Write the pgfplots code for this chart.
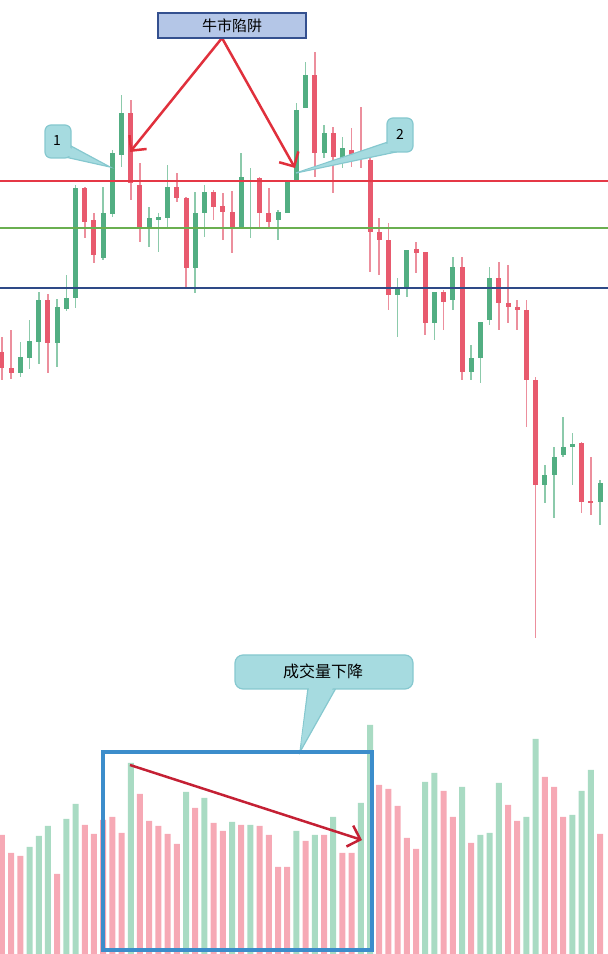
\documentclass[border=0pt]{standalone}
\usepackage{fontspec}
\setmainfont{Noto Sans CJK SC}
\usepackage{pgfplots}
\pgfplotsset{compat=1.18}
\usepackage{pgfplotstable}
\usetikzlibrary{arrows.meta}

\definecolor{candleR}{HTML}{E85A6E}
\definecolor{candleG}{HTML}{52AE82}
\definecolor{wickR}{HTML}{EC8F9D}
\definecolor{wickG}{HTML}{8CCAAB}
\definecolor{volR}{HTML}{F6A9B5}
\definecolor{volG}{HTML}{A9DBC3}
\definecolor{lineR}{HTML}{E53846}
\definecolor{lineG}{HTML}{6AAF50}
\definecolor{lineB}{HTML}{2E4A87}
\definecolor{arrowR}{HTML}{E0303C}
\definecolor{arrowDR}{HTML}{C42034}
\definecolor{trapFill}{HTML}{B4C6E7}
\definecolor{trapEdge}{HTML}{34508F}
\definecolor{callFill}{HTML}{A6DBE0}
\definecolor{callEdge}{HTML}{86C8CF}
\definecolor{boxBlue}{HTML}{3C8DCB}

% candles: x open high low close
\pgfplotstableread{
x  o    h    l    c
3  32.7 35.8 32.3 34.3
4  34.2 38.0 33.1 35.9
5  35.8 40.8 33.6 40.0
7  35.7 40.1 33.3 39.3
8  39.1 42.5 38.9 40.2
9  40.2 51.5 39.2 51.2
12 44.2 51.3 44.0 48.7
13 48.6 55.0 48.3 54.7
14 54.5 60.5 53.3 58.7
17 47.3 49.3 45.3 48.2
18 48.0 48.7 44.8 48.3
19 48.2 53.5 47.3 51.3
22 43.2 50.8 40.7 48.7
23 48.7 51.5 46.3 50.8
27 47.3 54.7 47.3 52.3
28 51.8 53.2 46.2 52.0
31 48.0 49.0 46.0 48.8
32 48.7 52.0 48.7 51.8
33 52.0 59.7 51.9 59.0
34 59.2 63.8 59.2 62.5
36 54.7 57.5 54.2 56.7
38 54.2 56.3 53.2 55.2
44 40.5 42.2 36.3 41.2
45 41.3 45.0 40.3 45.0
48 37.7 40.8 36.0 40.8
50 40.0 44.3 39.0 43.3
52 32.8 35.5 32.0 34.2
53 34.2 37.8 31.7 37.8
54 38.0 43.3 37.5 42.2
60 21.5 23.5 19.7 22.5
61 22.5 25.3 18.2 24.3
62 24.5 28.3 24.3 25.3
63 25.3 26.7 21.5 25.6
66 19.8 22.0 17.5 21.7
}\candlesG
\pgfplotstableread{
x  o    h    l    c
1  34.8 36.3 32.0 33.2
2  33.2 37.0 32.1 32.7
6  40.0 40.6 32.7 35.7
10 51.2 51.3 46.2 47.8
11 48.0 48.7 43.7 44.5
15 58.7 60.0 50.0 51.7
16 51.5 53.7 45.8 47.3
20 51.3 52.7 49.8 50.2
21 50.2 50.3 41.3 43.2
24 50.8 51.0 48.0 49.3
25 49.4 50.7 46.0 48.8
26 48.8 50.9 44.7 47.3
29 52.2 52.3 47.3 48.7
30 48.7 51.2 47.3 47.8
35 62.5 64.8 52.3 54.7
37 56.7 57.3 50.7 54.3
39 55.0 57.2 53.3 54.3
40 54.8 59.3 53.2 54.2
41 54.0 54.2 42.8 46.8
42 46.8 48.2 42.5 46.0
43 46.0 47.7 39.0 40.5
46 45.1 45.8 42.7 44.7
47 44.8 44.8 36.5 37.7
49 40.8 41.0 37.0 39.8
51 43.3 44.3 32.0 32.8
55 42.2 43.8 37.0 39.7
56 39.7 43.5 37.7 39.3
57 39.3 40.0 37.0 39.0
58 39.0 40.0 27.3 32.0
59 32.0 32.3 6.2  21.5
64 25.7 25.8 18.7 19.8
65 19.9 24.3 18.5 19.7
}\candlesR

% volume
\pgfplotstableread{
x  v
4  107
5  118
6  128
8  135
9  150
15 191
21 162
23 156
26 132
28 129
33 123
35 119
37 137
40 151
41 229
47 172
48 181
51 167
53 119
54 121
55 171
58 137
59 215
63 139
64 163
65 184
}\volG
\pgfplotstableread{
x  v
1  119
2  101
3  98
7  80
10 129
11 120
12 134
13 137
14 121
16 160
17 133
18 128
19 120
20 110
22 146
24 131
25 123
27 129
29 128
30 119
31 87
32 87
34 113
36 119
38 101
39 101
42 169
43 165
44 148
45 116
46 105
49 163
50 137
52 111
56 149
57 133
60 177
61 167
62 137
66 120
}\volR

\begin{document}
\begin{tikzpicture}
\useasboundingbox (0,0) rectangle (608pt,954pt);
\pgfplotsset{chartbase/.style={hide axis, scale only axis,
    width=608pt, height=954pt, at={(0,0)}, anchor=south west,
    xmin=0.783, xmax=66.87},
  candle/.style={draw=none, mark=none, error bars/.cd, y dir=plus,
    y explicit, error mark=none}}

% volume panel
\begin{axis}[chartbase, ymin=0, ymax=954]
\addplot[ybar, bar width=6pt, bar shift=0pt, fill=volR, draw=none]
    table[x=x, y=v] {\volR};
\addplot[ybar, bar width=6pt, bar shift=0pt, fill=volG, draw=none]
    table[x=x, y=v] {\volG};
\end{axis}

% price panel
\begin{axis}[chartbase, ymin=-25.4, ymax=70]
% wicks
\addplot[candle, error bar style={line width=1.6pt, draw=wickG}]
    table[x=x, y=l, y error expr=\thisrow{h}-\thisrow{l}] {\candlesG};
\addplot[candle, error bar style={line width=1.6pt, draw=wickR}]
    table[x=x, y=l, y error expr=\thisrow{h}-\thisrow{l}] {\candlesR};
% bodies
\addplot[candle, error bar style={line width=5pt, draw=candleG}]
    table[x=x, y=o, y error expr=\thisrow{c}-\thisrow{o}] {\candlesG};
\addplot[candle, error bar style={line width=5pt, draw=candleR}]
    table[x=x, y=c, y error expr=\thisrow{o}-\thisrow{c}] {\candlesR};
% levels
\addplot[lineR, line width=2.6pt] coordinates {(0.783,51.9) (66.87,51.9)};
\addplot[lineG, line width=2pt] coordinates {(0.783,47.2) (66.87,47.2)};
\addplot[lineB, line width=2.4pt] coordinates {(0.783,41.2) (66.87,41.2)};
\end{axis}

% annotations, in pixel units from the top left
\begin{scope}[shift={(0pt,954pt)}, x=1pt, y=-1pt]
\tikzset{callout/.style={fill=callFill, draw=callEdge, line width=1.2pt}}
% trap label and arrows
\draw[arrowR, line width=2.5pt, -{Straight Barb[length=11pt, width=22pt]}]
    (222,38) -- (130,152);
\draw[arrowR, line width=2.5pt, -{Straight Barb[length=11pt, width=22pt]}]
    (222,38) -- (295,168);
\filldraw[fill=trapFill, draw=trapEdge, line width=2pt] (158,13) rectangle (306,38);
\node[font=\fontsize{15}{17}\selectfont] at (232,25.5) {牛市陷阱};
% callout 1
\filldraw[callout] (71,146) -- (110,167) -- (65,157) -- cycle;
\filldraw[callout, rounded corners=6pt] (45,125) rectangle (71,158);
\fill[callFill] (69,147.5) -- (104,164.6) -- (66,155.6) -- cycle;
\node[font=\fontsize{14}{16}\selectfont] at (57,141) {1};
% callout 2
\filldraw[callout] (388,142) -- (296,173) -- (396,152) -- cycle;
\filldraw[callout, rounded corners=6pt] (387,118) rectangle (413,152);
\fill[callFill] (388.6,143.5) -- (303,171) -- (394.6,150.6) -- cycle;
\node[font=\fontsize{14}{16}\selectfont] at (400,134) {2};
% callout volume
\filldraw[callout] (308,688) -- (300,752) -- (336,688) -- cycle;
\filldraw[callout, rounded corners=8pt] (235,655) rectangle (413,689);
\fill[callFill] (309.5,686) -- (301,744) -- (334,686) -- cycle;
\node[font=\fontsize{16}{18}\selectfont] at (323,671) {成交量下降};
% volume box and trend arrow
\draw[boxBlue, line width=3.5pt] (103,752) rectangle (372,950);
\draw[arrowDR, line width=2.5pt, -{Straight Barb[length=11pt, width=22pt]}]
    (130,765) -- (362,840);
\end{scope}
\end{tikzpicture}
\end{document}
